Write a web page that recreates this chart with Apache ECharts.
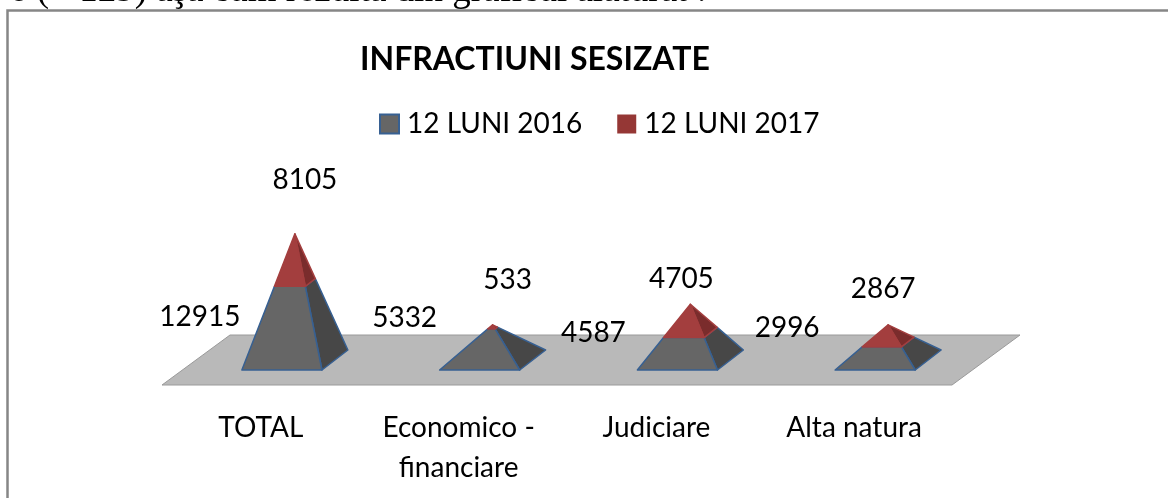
<!DOCTYPE html>
<html>
<head>
<meta charset="utf-8">
<title>Infractiuni sesizate</title>
<style>
html,body{margin:0;padding:0;background:#fff;}
#main{width:1168px;height:498px;}
</style>
<script src="https://cdn.jsdelivr.net/npm/echarts@6/dist/echarts.min.js"></script>
</head>
<body>
<div id="main"></div>
<script>
// date
var categories = ['TOTAL', 'Economico -\nfinanciare', 'Judiciare', 'Alta natura'];
var values2016 = [12915, 5332, 4587, 2996];
var values2017 = [8105, 533, 4705, 2867];
var seriesNames = ['12 LUNI 2016', '12 LUNI 2017'];

// etichetele sunt mutate manual in original, fata de centrul bazei
var labelShift2016 = [[-95, -43], [-88, -42], [-97, -27], [-101, -32]];
var labelShift2017 = [[10, -180], [15, -80], [-9, -81], [-5, -71]];

var FONT = 'Lato';
var myChart = echarts.init(document.getElementById('main'));

// piramida: colturile baza -> varf, taiate la fractiunile from/to
function lerp(a, b, t){
    return [a[0] + (b[0] - a[0]) * t, a[1] + (b[1] - a[1]) * t];
}

function pyramidSeries(name, values, below, shifts, colors){
    return {
        name: name,
        type: 'custom',
        coordinateSystem: 'cartesian2d',
        itemStyle: {color: colors.front, borderColor: colors.edge, borderWidth: 2},
        encode: {x: 0, y: 1},
        data: categories.map(function(c, i){ return [i, values[i], below[i]]; }),
        z: 3,
        renderItem: function(params, api){
            var i = api.value(0), v = api.value(1), start = api.value(2);
            var total = values2016[i] + values2017[i];
            var c = api.coord([i, 0]);
            var apex = api.coord([i, total]);
            var band = api.size([1, 0])[0];
            var fl = [c[0] - band * 0.268, c[1] + 10];
            var fr = [c[0] + band * 0.137, c[1] + 10];
            var br = [c[0] + band * 0.268, c[1] - 10];
            var t0 = start / total, t1 = (start + v) / total;
            function face(a, b, fill){
                return {
                    type: 'polygon',
                    shape: {points: [lerp(a, apex, t0), lerp(b, apex, t0), lerp(b, apex, t1), lerp(a, apex, t1)]},
                    style: {fill: fill, stroke: colors.edge, lineWidth: 1.5, lineJoin: 'round'}
                };
            }
            return {
                type: 'group',
                children: [
                    face(fr, br, colors.side),
                    face(fl, fr, colors.front),
                    {
                        type: 'text',
                        z2: 10,
                        x: c[0] + shifts[i][0],
                        y: c[1] + shifts[i][1],
                        style: {text: String(v), font: '28px ' + FONT, fill: '#000', align: 'center', verticalAlign: 'middle'}
                    }
                ]
            };
        }
    };
}

var zero = [0, 0, 0, 0];

var option = {
    animation: false,
    backgroundColor: '#fff',
    title: {
        text: 'INFRACTIUNI SESIZATE',
        left: 360,
        top: 44,
        padding: 0,
        textStyle: {fontFamily: FONT, fontSize: 32, fontWeight: 'bold', color: '#000'}
    },
    legend: {
        left: 379,
        top: 110,
        padding: 0,
        itemWidth: 19,
        itemHeight: 19,
        itemGap: 35,
        textStyle: {fontFamily: FONT, fontSize: 28, color: '#000', padding: [0, 0, 0, 3]},
        data: [
            {name: seriesNames[0], icon: 'rect', itemStyle: {color: '#666666', borderColor: '#376092', borderWidth: 2}},
            {name: seriesNames[1], icon: 'rect', itemStyle: {color: '#953735', borderWidth: 0}}
        ]
    },
    grid: {left: 196, top: 60, width: 791, height: 300},
    xAxis: {
        type: 'category',
        data: categories,
        axisLine: {show: false},
        axisTick: {show: false},
        axisLabel: {
            interval: 0,
            margin: 48,
            padding: [0, 68, 0, 0],
            fontFamily: FONT,
            fontSize: 28,
            lineHeight: 40,
            color: '#000'
        }
    },
    yAxis: {type: 'value', min: 0, max: 50000, show: false, splitLine: {show: false}},
    // rama si textul taiat din pagina
    graphic: [
        {
            type: 'text',
            z: 0,
            x: 9,
            y: 10,
            style: {
                text: '6 (= 129) aşa cum rezultă din graficul alăturat :',
                font: '37px "Liberation Serif"',
                fill: '#000',
                verticalAlign: 'bottom'
            }
        },
        {
            type: 'polyline',
            z: 1,
            shape: {points: [[7.5, 498], [7.5, 10.5], [1168, 10.5]]},
            style: {fill: 'none', stroke: '#868686', lineWidth: 2.5}
        }
    ],
    series: [
        {
            // platforma gri
            type: 'custom',
            coordinateSystem: 'cartesian2d',
            silent: true,
            z: 1,
            data: [[0, 0]],
            encode: {x: 0, y: 1},
            renderItem: function(params, api){
                var s = params.coordSys;
                var y0 = api.coord([0, 0])[1];
                return {
                    type: 'polygon',
                    shape: {points: [
                        [s.x - 34, y0 + 25],
                        [s.x + 34, y0 - 25],
                        [s.x + s.width + 33, y0 - 25],
                        [s.x + s.width - 35, y0 + 25]
                    ]},
                    style: {fill: '#b9b9b9', stroke: '#9a9a9a', lineWidth: 1}
                };
            }
        },
        pyramidSeries(seriesNames[0], values2016, zero, labelShift2016, {front: '#666666', side: '#474747', edge: '#376092'}),
        pyramidSeries(seriesNames[1], values2017, values2016, labelShift2017, {front: '#a33e3e', side: '#7a2c2c', edge: '#a33e3e'})
    ]
};

myChart.setOption(option);
</script>
</body>
</html>
